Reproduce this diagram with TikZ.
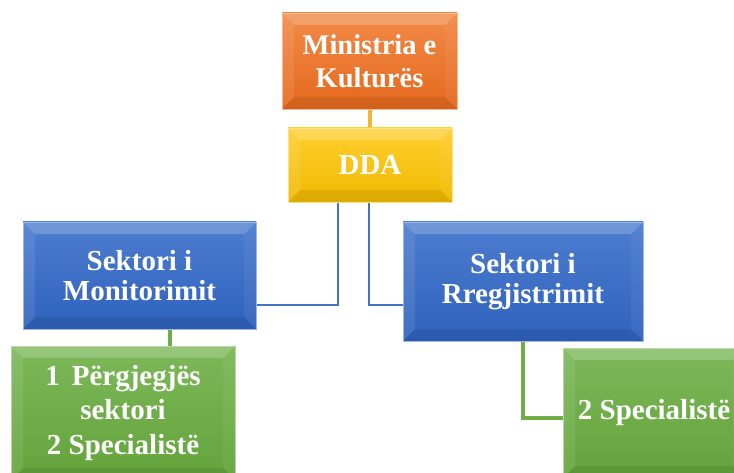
\documentclass[tikz,border=0pt]{standalone}
\usepackage{fontspec}
\setmainfont{Liberation Serif}
\usetikzlibrary{backgrounds}
\definecolor{orgT}{HTML}{F28A48}
\definecolor{orgB}{HTML}{E4691D}
\definecolor{yelT}{HTML}{FFCF30}
\definecolor{yelB}{HTML}{F0B900}
\definecolor{bluT}{HTML}{4D7DCF}
\definecolor{bluB}{HTML}{2F62BD}
\definecolor{grnT}{HTML}{7DB859}
\definecolor{grnB}{HTML}{63A33B}
\definecolor{orgLine}{HTML}{F8B23A}
\definecolor{bluLine}{HTML}{4472C4}
\definecolor{grnLine}{HTML}{70AD47}
\tikzset{
  bevel/.style={path picture={
    \path (path picture bounding box.north west) coordinate (pNW)
          (path picture bounding box.north east) coordinate (pNE)
          (path picture bounding box.south west) coordinate (pSW)
          (path picture bounding box.south east) coordinate (pSE);
    \fill[white,opacity=.2] (pNW) -- (pNE) -- ([shift={(-12pt,-12pt)}]pNE) -- ([shift={(12pt,-12pt)}]pNW) -- cycle;
    \fill[white,opacity=.09] (pNW) -- ([shift={(12pt,-12pt)}]pNW) -- ([shift={(12pt,12pt)}]pSW) -- (pSW) -- cycle;
    \fill[black,opacity=.08] (pSW) -- (pSE) -- ([shift={(-12pt,12pt)}]pSE) -- ([shift={(12pt,12pt)}]pSW) -- cycle;
    \fill[white,opacity=.05] (pNE) -- (pSE) -- ([shift={(-12pt,12pt)}]pSE) -- ([shift={(-12pt,-12pt)}]pNE) -- cycle;
  }},
  box/.style={rectangle, bevel, inner sep=0pt, align=center, text=white,
    font=\bfseries\fontsize{29}{33}\selectfont, line width=0.8pt},
  orgbox/.style={box, top color=orgT, bottom color=orgB, draw=orgT!60!white},
  yelbox/.style={box, top color=yelT, bottom color=yelB, draw=yelT!60!white},
  blubox/.style={box, top color=bluT, bottom color=bluB, draw=bluT!55!white},
  grnbox/.style={box, top color=grnT, bottom color=grnB, draw=grnT!55!white},
  conn/.style={line width=3.1pt},
  bconn/.style={line width=2.9pt},
}
\begin{document}
\begin{tikzpicture}[x=1pt,y=-1pt]
\useasboundingbox (0,0) rectangle (734,473);
\clip (0,0) rectangle (734,473);
\node[orgbox, minimum width=175pt, minimum height=96pt, font=\bfseries\fontsize{28.5}{33}\selectfont] (mk) at (369.5,61) {Ministria e\\Kulturës};
\node[yelbox, minimum width=164pt, minimum height=74pt] (dda) at (370,165) {DDA};
\node[blubox, minimum width=233pt, minimum height=107pt, font=\bfseries\fontsize{29}{29.5}\selectfont] (mon) at (139.5,275.5) {Sektori i\\Monitorimit};
\node[blubox, minimum width=240pt, minimum height=119pt, font=\bfseries\fontsize{29}{30}\selectfont] (reg) at (523,281.5) {Sektori i\\Rregjistrimit};
\node[grnbox, minimum width=224pt, minimum height=134pt, font=\bfseries\fontsize{29}{34.5}\selectfont] (g1) at (123,413) {1\, Përgjegjës\\sektori\\2 Specialistë};
\node[grnbox, minimum width=182pt, minimum height=130pt] (g2) at (654,413) {2 Specialistë};
\coordinate (jl) at (338,305);
\coordinate (jr) at (369,305);
\coordinate (jg) at (170,0);
\coordinate (jg2) at (0,418);
\begin{pgfonlayer}{background}
\draw[conn, orgLine] (mk.south -| dda.north) -- (dda.north);
\draw[bconn, bluLine] (dda.south -| jl) |- (mon.east |- jl);
\draw[bconn, bluLine] (dda.south -| jr) |- (reg.west |- jr);
\draw[conn, grnLine] (mon.south -| jg) -- (g1.north -| jg);
\draw[conn, grnLine] (reg.south) |- (g2.west |- jg2);
\end{pgfonlayer}
\end{tikzpicture}
\end{document}
